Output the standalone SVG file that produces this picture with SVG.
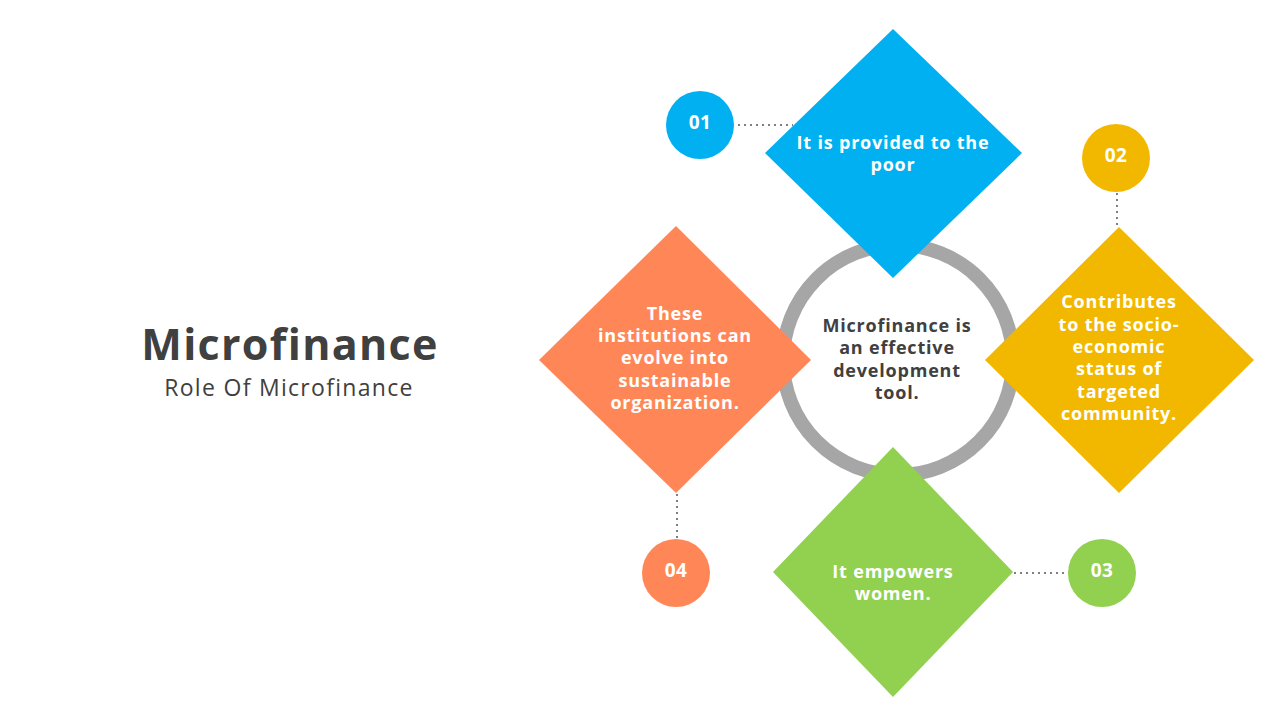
<svg xmlns="http://www.w3.org/2000/svg" width="1280" height="720" viewBox="0 0 1280 720">
<style>
.t{font-family:"Open Sans","Liberation Sans",sans-serif;font-weight:700;font-size:18px;letter-spacing:0.8px;fill:#fff;text-anchor:middle}
.c{font-family:"Open Sans","Liberation Sans",sans-serif;font-weight:700;font-size:18px;letter-spacing:0.8px;fill:#404040;text-anchor:middle}
.n{font-family:"Open Sans","Liberation Sans",sans-serif;font-weight:700;font-size:19px;letter-spacing:0.5px;fill:#fff;text-anchor:middle}
.dot{stroke:#7f7f7f;stroke-width:2;stroke-dasharray:2 4;fill:none}
</style>
<rect width="1280" height="720" fill="#fff"/>
<g id="title">
<text x="290" y="360" style="font-family:'Open Sans','Liberation Sans',sans-serif;font-weight:700;font-size:43px;letter-spacing:1.3px;fill:#404040;text-anchor:middle">Microfinance</text>
<text x="289" y="396" style="font-family:'Open Sans','Liberation Sans',sans-serif;font-size:23px;letter-spacing:1.3px;fill:#404040;text-anchor:middle">Role Of Microfinance</text>
</g>
<g id="connectors">
<line class="dot" x1="738" y1="125" x2="793" y2="125"/>
<line class="dot" x1="1117" y1="193" x2="1117" y2="227"/>
<line class="dot" x1="1014" y1="573" x2="1068" y2="573"/>
<line class="dot" x1="677" y1="494" x2="677" y2="539"/>
</g>
<g id="center">
<circle cx="898" cy="360" r="115" fill="none" stroke="#a6a6a6" stroke-width="14"/>
<text class="c" x="897" y="332">Microfinance is</text>
<text class="c" x="897" y="354">an effective</text>
<text class="c" x="897" y="377">development</text>
<text class="c" x="897" y="399">tool.</text>
</g>
<g id="node1">
<polygon points="893,29 1022,153 893,278 765,153" fill="#00b0f0"/>
<text class="t" x="893" y="149">It is provided to the</text>
<text class="t" x="893" y="171">poor</text>
</g>
<g id="node2">
<polygon points="1119,227 1254,360 1119,493 985,360" fill="#f2b800"/>
<text class="t" x="1119" y="308">Contributes</text>
<text class="t" x="1119" y="331">to the socio-</text>
<text class="t" x="1119" y="353">economic</text>
<text class="t" x="1119" y="375">status of</text>
<text class="t" x="1119" y="398">targeted</text>
<text class="t" x="1119" y="420">community.</text>
</g>
<g id="node3">
<polygon points="893,447 1013,572 893,697 773,572" fill="#92d050"/>
<text class="t" x="893" y="578">It empowers</text>
<text class="t" x="893" y="600">women.</text>
</g>
<g id="node4">
<polygon points="676,226 811,360 676,493 539,360" fill="#ff8757"/>
<text class="t" x="675" y="320">These</text>
<text class="t" x="675" y="342">institutions can</text>
<text class="t" x="675" y="364">evolve into</text>
<text class="t" x="675" y="387">sustainable</text>
<text class="t" x="675" y="409">organization.</text>
</g>
<g id="badge1"><circle cx="700" cy="125" r="34" fill="#00b0f0"/><text class="n" x="700" y="129">01</text></g>
<g id="badge2"><circle cx="1116" cy="158" r="34" fill="#f2b800"/><text class="n" x="1116" y="162">02</text></g>
<g id="badge3"><circle cx="1102" cy="573" r="34" fill="#92d050"/><text class="n" x="1102" y="577">03</text></g>
<g id="badge4"><circle cx="676" cy="573" r="34" fill="#ff8757"/><text class="n" x="676" y="577">04</text></g>
</svg>
